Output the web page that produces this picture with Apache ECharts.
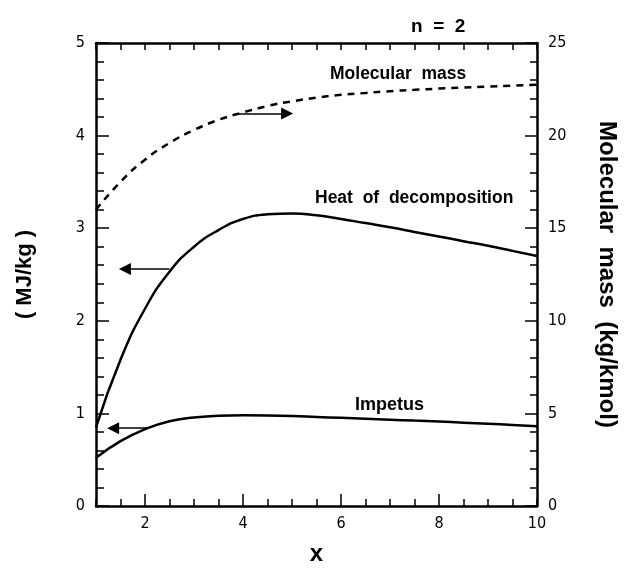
<!DOCTYPE html>
<html>
<head>
<meta charset="utf-8">
<script src="https://cdn.jsdelivr.net/npm/echarts@6/dist/echarts.min.js"></script>
<style>html,body{margin:0;padding:0;background:#fff}#c{width:624px;height:580px}</style>
</head>
<body>
<div id="c"></div>
<script>
// ---- data ----
var xValues = [1, 1.5, 2, 2.5, 3, 3.5, 4, 4.5, 5, 5.5, 6, 6.5, 7, 7.5, 8, 8.5, 9, 9.5, 10];
var heatOfDecomposition = [0.85, 1.58, 2.13, 2.53, 2.8, 2.98, 3.1, 3.15, 3.16, 3.14, 3.1, 3.055, 3.01, 2.96, 2.91, 2.86, 2.81, 2.755, 2.7];
var impetus = [0.52, 0.7, 0.83, 0.915, 0.955, 0.975, 0.98, 0.978, 0.972, 0.962, 0.952, 0.942, 0.932, 0.922, 0.912, 0.9, 0.888, 0.875, 0.862];
var molecularMass = [16.0, 17.5, 18.7, 19.6, 20.3, 20.85, 21.25, 21.6, 21.85, 22.05, 22.2, 22.3, 22.4, 22.47, 22.54, 22.6, 22.65, 22.7, 22.75];
var xLabelValues = [2, 4, 6, 8, 10];
var xMajorTicks = [2, 4, 6, 8];
var seriesNames = ['Heat of decomposition', 'Impetus', 'Molecular mass'];
// arrow annotations: [xFrom, xTo, y]
var arrowMol = [3.88, 4.9, 21.2];
var arrowHeat = [2.5, 1.59, 2.56];
var arrowImp = [2.06, 1.35, 0.84];

function pairs(ys) { return xValues.map(function (x, i) { return [x, ys[i]]; }); }

var tickFont = "'Liberation Sans Narrow', 'DejaVu Sans Condensed', 'Liberation Sans', sans-serif";
var boldFont = "'Liberation Sans', Arial, sans-serif";
var black = '#000';

function arrow(a) {
  return {
    silent: true,
    symbol: ['none', 'triangle'],
    symbolSize: 12,
    lineStyle: { color: black, width: 1.5, type: 'solid' },
    itemStyle: { color: black },
    label: { show: false },
    emphasis: { disabled: true },
    data: [[{ coord: [a[0], a[2]] }, { coord: [a[1], a[2]] }]]
  };
}

var chart = echarts.init(document.getElementById('c'));
chart.setOption({
  animation: false,
  backgroundColor: '#fff',
  grid: { left: 96, right: 87, top: 43, bottom: 74, outerBoundsMode: 'none', containLabel: false },
  title: {
    text: 'n  =  2', left: 406, top: 12,
    textStyle: { fontFamily: boldFont, fontWeight: 'bold', fontSize: 19, color: black }
  },
  xAxis: [
    {
      type: 'value', min: 1, max: 10, position: 'bottom',
      name: 'x', nameLocation: 'middle', nameGap: 36,
      nameTextStyle: { fontFamily: boldFont, fontWeight: 'bold', fontSize: 24, color: black },
      axisLine: { show: true, lineStyle: { color: black, width: 2.5 } },
      axisTick: { show: true, inside: true, length: 12, customValues: xMajorTicks, lineStyle: { color: black, width: 1.5 } },
      axisLabel: { customValues: xLabelValues, margin: 10, fontFamily: tickFont, fontSize: 16, color: black },
      splitLine: { show: false }
    },
    {
      type: 'value', min: 1, max: 10, interval: 0.5, position: 'bottom',
      axisLine: { show: false },
      axisTick: { show: true, inside: true, length: 7, lineStyle: { color: black, width: 1.5 } },
      axisLabel: { show: false }, splitLine: { show: false }
    },
    {
      type: 'value', min: 1, max: 10, interval: 0.5, position: 'top',
      axisLine: { show: true, lineStyle: { color: black, width: 2.5 } },
      axisTick: { show: true, inside: true, length: 7, lineStyle: { color: black, width: 1.5 } },
      axisLabel: { show: false }, splitLine: { show: false }
    }
  ],
  yAxis: [
    {
      type: 'value', min: 0, max: 5, interval: 1, position: 'left',
      name: '( MJ/kg )', nameLocation: 'middle', nameGap: 60, nameRotate: 90,
      nameTextStyle: { fontFamily: boldFont, fontWeight: 'bold', fontSize: 22, color: black },
      axisLine: { show: true, lineStyle: { color: black, width: 2.5 } },
      axisTick: { show: true, inside: true, length: 13, lineStyle: { color: black, width: 1.5 } },
      minorTick: { show: true, splitNumber: 5, length: 8, lineStyle: { color: black, width: 1.5 } },
      axisLabel: { margin: 11, fontFamily: tickFont, fontSize: 16, color: black },
      splitLine: { show: false }
    },
    {
      type: 'value', min: 0, max: 25, interval: 5, position: 'right',
      name: 'Molecular  mass  (kg/kmol)', nameLocation: 'middle', nameGap: 58, nameRotate: -90,
      nameTextStyle: { fontFamily: boldFont, fontWeight: 'bold', fontSize: 24, color: black },
      axisLine: { show: true, lineStyle: { color: black, width: 2.5 } },
      axisTick: { show: true, inside: true, length: 12, lineStyle: { color: black, width: 1.5 } },
      minorTick: { show: true, splitNumber: 5, length: 7, lineStyle: { color: black, width: 1.5 } },
      axisLabel: { margin: 11, fontFamily: tickFont, fontSize: 16, color: black },
      splitLine: { show: false }
    }
  ],
  series: [
    {
      name: seriesNames[0], type: 'line', xAxisIndex: 0, yAxisIndex: 0, smooth: 0.5,
      showSymbol: false, data: pairs(heatOfDecomposition),
      lineStyle: { color: black, width: 2.5 }, markLine: arrow(arrowHeat)
    },
    {
      name: seriesNames[1], type: 'line', xAxisIndex: 0, yAxisIndex: 0, smooth: 0.5,
      showSymbol: false, data: pairs(impetus),
      lineStyle: { color: black, width: 2.5 }, markLine: arrow(arrowImp)
    },
    {
      name: seriesNames[2], type: 'line', xAxisIndex: 0, yAxisIndex: 1, smooth: 0.5,
      showSymbol: false, data: pairs(molecularMass),
      lineStyle: { color: black, width: 2.5, type: [7, 6] }, markLine: arrow(arrowMol)
    }
  ],
  graphic: [
    { type: 'text', left: 330, top: 65, style: { text: 'Molecular  mass', fontFamily: boldFont, fontWeight: 'bold', fontSize: 17.5, fill: black } },
    { type: 'text', left: 315, top: 189, style: { text: 'Heat  of  decomposition', fontFamily: boldFont, fontWeight: 'bold', fontSize: 17.5, fill: black } },
    { type: 'text', left: 355, top: 396, style: { text: 'Impetus', fontFamily: boldFont, fontWeight: 'bold', fontSize: 18, fill: black } }
  ]
});
</script>
</body>
</html>
